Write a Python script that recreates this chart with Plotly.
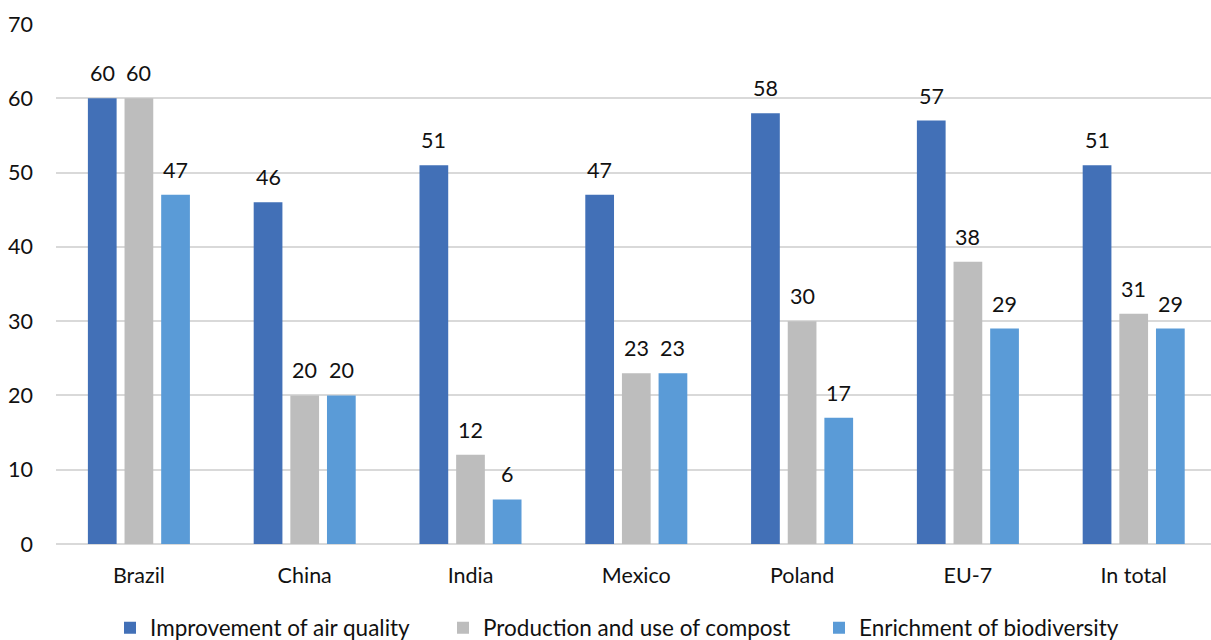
import plotly.graph_objects as go

# Survey results by country (percent of respondents)
categories = ["Brazil", "China", "India", "Mexico", "Poland", "EU-7", "In total"]
air_quality = [60, 46, 51, 47, 58, 57, 51]
compost = [60, 20, 12, 23, 30, 38, 31]
biodiversity = [47, 20, 6, 23, 17, 29, 29]

series_names = [
    "Improvement of air quality",
    "Production and use of compost",
    "Enrichment of biodiversity",
]
series_values = [air_quality, compost, biodiversity]
colors = ["#4270B7", "#BDBDBD", "#5A9BD7"]
y_ticks = [0, 10, 20, 30, 40, 50, 60, 70]

FONT = "Lato, 'Open Sans', sans-serif"
TEXT_COLOR = "#111111"
GRID_COLOR = "#D9D9D9"
LABEL_SIZE = 21.5

W, H = 1211, 640
M_L, M_R, M_T, M_B = 56, 0, 24, 96
plot_w = W - M_L - M_R
plot_h = H - M_T - M_B
slot_px = 165.8  # width of one category slot

fig = go.Figure()
legend_ids = ["legend", "legend2", "legend3"]
for name, vals, col, lg in zip(series_names, series_values, colors, legend_ids):
    fig.add_trace(go.Bar(
        x=categories, y=vals, name=name,
        marker=dict(color=col, line=dict(width=0)),
        legend=lg,
    ))

# Value labels above each bar
group_w = slot_px * (1 - 0.337)
bar_slot = group_w / 3
for i, (vals, lg) in enumerate(zip(series_values, legend_ids)):
    shift = (i - 1) * bar_slot
    for cat, v in zip(categories, vals):
        fig.add_annotation(
            x=cat, y=v, text=str(v), showarrow=False,
            xshift=shift, yshift=25, yanchor="middle",
            font=dict(family=FONT, size=LABEL_SIZE, color=TEXT_COLOR),
        )

# One legend per series, spaced along the bottom
legend_text_px = [150, 483, 859]
legend_y = -(628 - (H - M_B)) / plot_h
legend_layout = {}
for lg, tx in zip(legend_ids, legend_text_px):
    legend_layout[lg] = dict(
        x=(tx - 40 - M_L) / plot_w, xanchor="left",
        y=legend_y, yanchor="middle",
        orientation="h", bgcolor="rgba(0,0,0,0)",
        font=dict(family=FONT, size=22.5, color=TEXT_COLOR),
        itemclick=False, itemdoubleclick=False,
    )

x_end = -0.5 + plot_w / slot_px

fig.update_layout(
    width=W, height=H,
    margin=dict(l=M_L, r=M_R, t=M_T, b=M_B, pad=0, autoexpand=False),
    paper_bgcolor="white", plot_bgcolor="white",
    barmode="group", bargap=0.337, bargroupgap=0.216,
    font=dict(family=FONT, size=LABEL_SIZE, color=TEXT_COLOR),
    showlegend=True,
    **legend_layout,
)
fig.update_xaxes(
    type="category", range=[-0.5, x_end],
    showgrid=False, showline=False, zeroline=False, ticks="",
    ticklabelstandoff=16,
    tickfont=dict(family=FONT, size=LABEL_SIZE, color=TEXT_COLOR),
)
fig.update_yaxes(
    range=[0, 70], tickvals=y_ticks,
    showgrid=True, gridcolor=GRID_COLOR, gridwidth=1.5,
    zeroline=True, zerolinecolor=GRID_COLOR, zerolinewidth=1.5,
    showline=False, ticks="",
    ticklabelstandoff=22,
    tickfont=dict(family=FONT, size=LABEL_SIZE, color=TEXT_COLOR),
)

fig.write_html("out.html")
